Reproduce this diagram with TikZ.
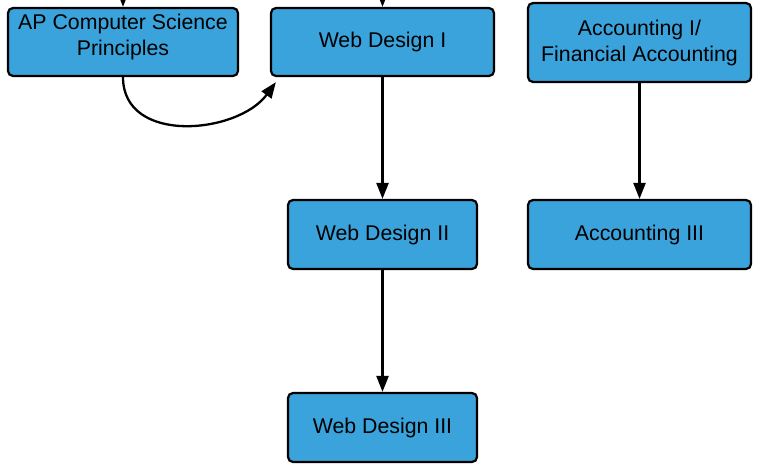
\documentclass[tikz,border=0pt]{standalone}
\usepackage{fontspec}
\setmainfont{Liberation Sans}
\usepackage{xcolor}
\usetikzlibrary{arrows.meta}
\definecolor{boxblue}{RGB}{58,163,220}

\begin{document}
\begin{tikzpicture}[x=1pt,y=-1pt,
  course/.style={rectangle,draw,fill=boxblue,rounded corners=5pt,line width=2.2pt,
    align=center,inner sep=0pt,font=\fontsize{21.3}{26}\selectfont},
  link/.style={line width=2.3pt,-{Triangle[length=16pt,width=12pt]}}]

  \useasboundingbox (0,0) rectangle (765,464);
  \clip (0,0) rectangle (765,464);

  \node[course,minimum width=230pt,minimum height=68pt,text depth=14pt] (ap) at (123,42) {AP Computer Science\\Principles};
  \node[course,minimum width=223pt,minimum height=68pt] (wd1) at (382.5,42) {Web Design I};
  \node[course,minimum width=189pt,minimum height=69pt] (wd2) at (382.5,234.5) {Web Design II};
  \node[course,minimum width=189pt,minimum height=69pt] (wd3) at (382.5,427.5) {Web Design III};
  \node[course,minimum width=223pt,minimum height=79pt] (acc1) at (639.5,42.5) {Accounting I/\\Financial Accounting};
  \node[course,minimum width=223pt,minimum height=69pt] (acc3) at (639.5,234.5) {Accounting III};

  % arrows coming in from above the picture
  \coordinate (apin) at (123,-40);
  \coordinate (wdin) at (382.5,-40);
  \draw[link] (apin) -- (ap);
  \draw[link] (wdin) -- (wd1);

  \draw[link] (wd1) -- (wd2);
  \draw[link] (wd2) -- (wd3);
  \draw[link] (acc1) -- (acc3);
  \draw[link] (ap.south) .. controls +(0,68) and +(-38,52) .. ([xshift=6pt,yshift=-5pt]wd1.south west);

\end{tikzpicture}
\end{document}
